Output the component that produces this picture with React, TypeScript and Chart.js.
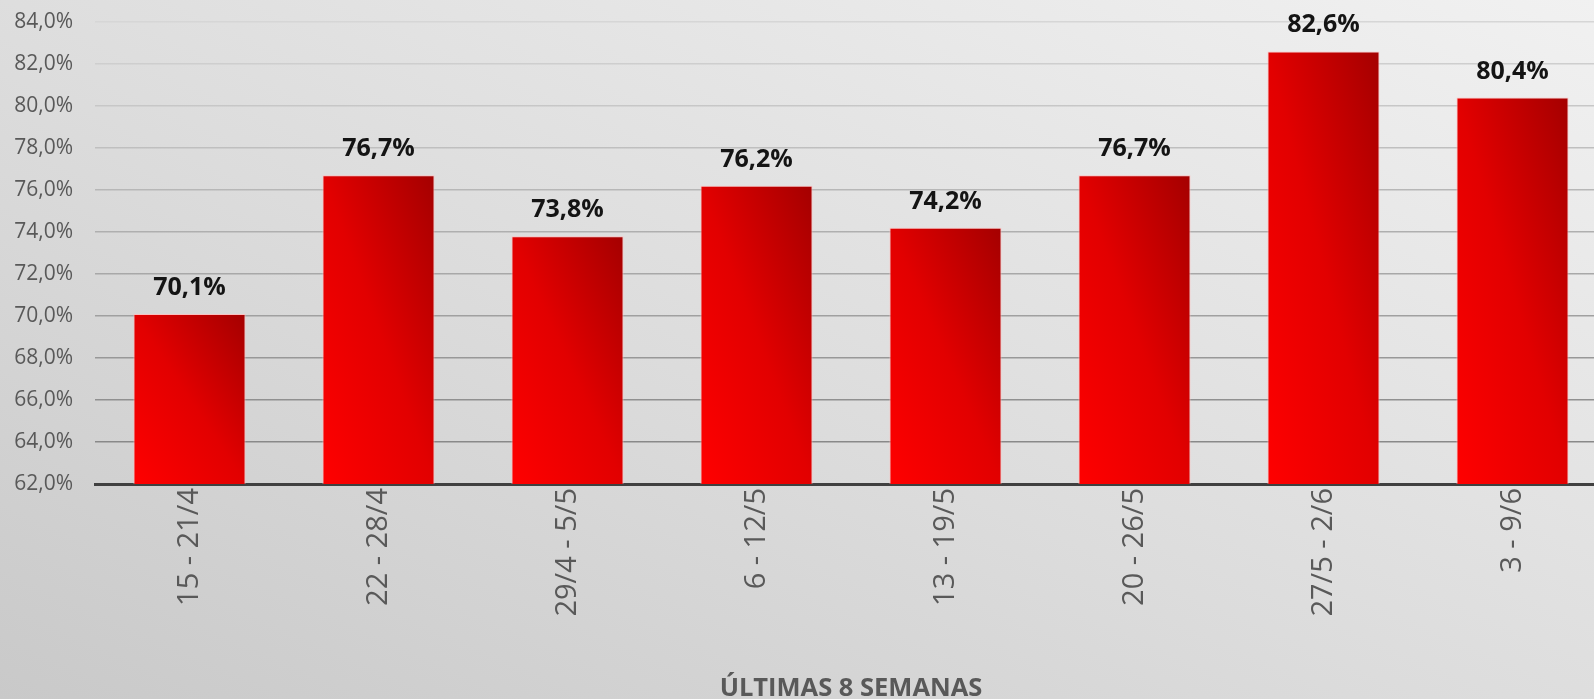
import React, { useEffect, useRef } from "react";
import { Chart, registerables } from "chart.js";

Chart.register(...registerables);

const categories = ["15 - 21/4", "22 - 28/4", "29/4 - 5/5", "6 - 12/5", "13 - 19/5", "20 - 26/5", "27/5 - 2/6", "3 - 9/6"];
const values = [70.1, 76.7, 73.8, 76.2, 74.2, 76.7, 82.6, 80.4];
const yMin = 62;
const yMax = 84;
const yStep = 2;
const axisTitle = "ÚLTIMAS 8 SEMANAS";

const BAR_PCT = 0.593;
const fmt = (v: number) => v.toFixed(1).replace(".", ",") + "%";

const labelPlugin = {
  id: "barLabels",
  afterDatasetsDraw(chart: any) {
    const ctx = chart.ctx;
    const meta = chart.getDatasetMeta(0);
    ctx.save();
    ctx.font = "bold 25px 'Open Sans'";
    ctx.fillStyle = "#141414";
    ctx.textAlign = "center";
    ctx.textBaseline = "alphabetic";
    meta.data.forEach((bar: any, i: number) => {
      ctx.fillText(fmt(values[i]), bar.x, bar.y - 19);
    });
    ctx.restore();
  },
};

export default function App() {
  const ref = useRef<HTMLCanvasElement>(null);
  useEffect(() => {
    document.body.style.margin = "0";
    const canvas = ref.current!;
    const chart = new Chart(canvas, {
      type: "bar",
      data: {
        labels: categories,
        datasets: [
          {
            data: values,
            barPercentage: BAR_PCT,
            categoryPercentage: 1,
            borderColor: "rgba(255,190,190,0.9)",
            borderWidth: 1,
            backgroundColor: (c: any) => {
              const ch = c.chart;
              if (!ch.chartArea) return "#e00000";
              const xs = ch.scales.x;
              const ys = ch.scales.y;
              const cx = xs.getPixelForValue(c.dataIndex);
              const w = (xs.width / categories.length) * BAR_PCT;
              const left = cx - w / 2;
              const top = ys.getPixelForValue(c.raw);
              const bottom = ys.bottom;
              const h = Math.max(1, bottom - top);
              const k = (2 * w * h) / (h * h + w * w);
              const g = ch.ctx.createLinearGradient(left, bottom, left + h * k, bottom - w * k);
              g.addColorStop(0, "#ff0000");
              g.addColorStop(0.5, "#e20000");
              g.addColorStop(1, "#a40000");
              return g;
            },
          },
        ],
      },
      options: {
        responsive: false,
        animation: false,
        layout: { padding: { top: 22, right: 0, bottom: 0, left: 0 } },
        plugins: { legend: { display: false }, tooltip: { enabled: false }, title: { display: false } },
        scales: {
          x: {
            afterFit: (s: any) => {
              s.height = 228;
              s.paddingLeft = 0;
              s.paddingRight = 0;
            },
            grid: { display: false, drawTicks: false },
            border: { display: true, color: "#404040", width: 3 },
            ticks: {
              minRotation: 90,
              maxRotation: 90,
              padding: 4,
              color: "#595959",
              font: { family: "'Open Sans'", size: 29 },
            },
            title: {
              display: true,
              text: axisTitle,
              color: "#595959",
              font: { family: "'Open Sans'", size: 25.5, weight: "bold" },
              padding: { top: 0, bottom: 8 },
            },
          },
          y: {
            min: yMin,
            max: yMax,
            afterFit: (s: any) => {
              s.width = 95;
              s.paddingTop = 0;
              s.paddingBottom = 0;
            },
            border: { display: false },
            grid: {
              drawTicks: false,
              lineWidth: 1.6,
              color: (c: any) => {
                const v = c.tick ? c.tick.value : yMax;
                const t = (yMax - v) / (yMax - yMin);
                const g = Math.round(214 - t * 85);
                return `rgb(${g},${g},${g})`;
              },
            },
            ticks: {
              stepSize: yStep,
              padding: 22,
              color: "#595959",
              font: { family: "'Open Sans'", size: 21 },
              callback: (v: any) => fmt(Number(v)),
            },
          },
        },
      },
      plugins: [labelPlugin],
    });
    return () => chart.destroy();
  }, []);
  return (
    <div
      style={{
        position: "fixed",
        left: 0,
        top: 0,
        width: 1594,
        height: 699,
        overflow: "hidden",
        background: "linear-gradient(to top right, #c9c9c9 0%, #dcdcdc 45%, #f1f1f1 100%)",
      }}
    >
      <canvas ref={ref} width={1607} height={712} style={{ display: "block" }} />
    </div>
  );
}
